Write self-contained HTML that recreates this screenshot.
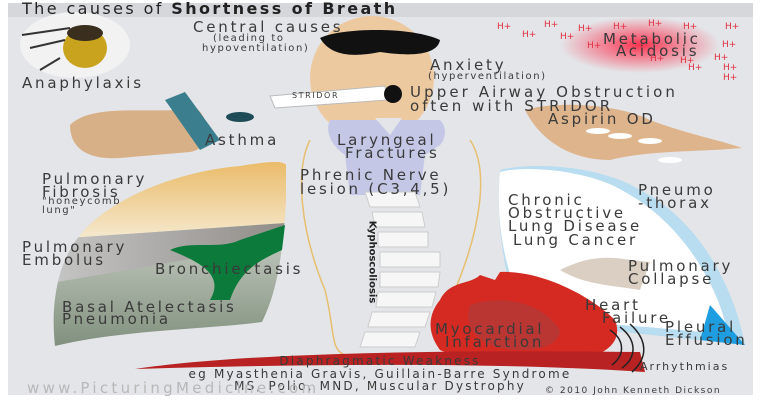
<!DOCTYPE html>
<html><head><meta charset="utf-8"><style>
html,body{margin:0;padding:0;background:#fff;}
#c{position:relative;width:760px;height:400px;overflow:hidden;background:#fff;font-family:"DejaVu Sans","Liberation Sans",sans-serif;color:#333;}
.t{position:absolute;font-size:15px;letter-spacing:2.8px;line-height:15px;white-space:nowrap;color:#3a3a3a;}
.s{font-size:10px;letter-spacing:1.6px;line-height:10px;}
.h{position:absolute;color:#e03040;font-size:9px;letter-spacing:0;}
</style></head><body><div id="c">
<svg width="760" height="400" style="position:absolute;left:0;top:0">
<defs>
<radialGradient id="rg" cx="50%" cy="50%" r="50%"><stop offset="0" stop-color="#ff2040" stop-opacity=".9"/><stop offset="1" stop-color="#ff2040" stop-opacity="0"/></radialGradient>
<linearGradient id="ly" x1="0" y1="0" x2="0" y2="1"><stop offset="0" stop-color="#e9b45a"/><stop offset="1" stop-color="#f5ead0"/></linearGradient>
<linearGradient id="lg" x1="0" y1="0" x2="0" y2="1"><stop offset="0" stop-color="#f2f2ee"/><stop offset="1" stop-color="#7f8f7c"/></linearGradient>
<linearGradient id="gb" x1="0" y1="0" x2="1" y2="0"><stop offset="0" stop-color="#c8c8c8"/><stop offset="1" stop-color="#8e8a85"/></linearGradient>
<clipPath id="cl"><path d="M240,166 C265,162 283,160 286,165 L286,200 C283,250 278,290 262,322 C200,330 120,330 55,346 C50,300 58,250 95,220 C130,190 190,170 240,166Z"/></clipPath>
</defs>
<rect x="8" y="3" width="745" height="392" fill="#e4e5e8"/>
<rect x="8" y="3" width="745" height="14" fill="#d6d7da"/>
<ellipse cx="640" cy="45" rx="80" ry="28" fill="url(#rg)"/>
<ellipse cx="75" cy="45" rx="55" ry="33" fill="#f2f2f2"/>
<ellipse cx="85" cy="48" rx="22" ry="20" fill="#c9a21e"/>
<ellipse cx="85" cy="33" rx="18" ry="8" fill="#3a2e1e"/>
<path d="M22,35 L70,28 M30,48 L65,40 M40,70 L60,58" stroke="#333" stroke-width="2"/>
<circle cx="372" cy="78" r="62" fill="#edc9a0"/>
<path d="M320,38 C340,28 410,26 440,40 C438,52 420,58 380,52 C350,58 330,55 320,38Z" fill="#111"/>
<path d="M270,96 L385,86 L387,100 L275,108Z" fill="#fff" stroke="#bbb"/>
<circle cx="393" cy="94" r="9" fill="#111"/>
<path d="M70,125 C90,105 140,112 175,110 C190,100 200,108 205,120 C210,135 205,150 190,152 L120,158 C90,160 70,150 70,125Z" fill="#d8b088"/>
<path d="M165,100 L185,92 L220,140 L200,150Z" fill="#3b7f8f"/>
<ellipse cx="240" cy="117" rx="14" ry="5" fill="#1e4b56"/>
<path d="M330,120 L440,120 C448,128 445,140 440,145 L425,155 L420,195 L350,195 L345,155 C330,145 325,130 330,120Z" fill="#c4c8e6"/>
<path d="M375,118 L390,135 L402,118Z" fill="#e4e5e8"/>
<path d="M310,140 C295,170 300,230 325,290 C335,330 330,350 345,355" stroke="#e6bf70" stroke-width="1.5" fill="none"/>
<path d="M470,140 C490,170 480,230 455,290" stroke="#e6bf70" stroke-width="1.5" fill="none"/>
<g fill="#f6f6f6" stroke="#ccc">
<path d="M365,192 L415,192 L420,207 L370,207Z"/><path d="M372,212 L422,212 L425,227 L375,227Z"/>
<path d="M378,232 L428,232 L428,247 L378,247Z"/><path d="M380,252 L440,252 L440,267 L380,267Z"/>
<path d="M380,272 L440,272 L438,287 L380,287Z"/><path d="M378,292 L436,292 L432,307 L376,307Z"/>
<path d="M372,312 L430,312 L425,327 L368,327Z"/><path d="M365,332 L420,332 L415,347 L360,347Z"/>
</g>
<path d="M525,110 C560,100 620,105 650,120 C690,135 720,140 742,148 C700,152 650,150 610,160 C570,160 540,140 525,110Z" fill="#deb48c"/>
<g fill="#fff"><ellipse cx="598" cy="131" rx="12" ry="3"/><ellipse cx="620" cy="136" rx="12" ry="3"/><ellipse cx="650" cy="141" rx="12" ry="3"/><ellipse cx="670" cy="160" rx="12" ry="3"/></g>
<g clip-path="url(#cl)">
<rect x="40" y="150" width="260" height="200" fill="url(#lg)"/>
<path d="M40,150 L300,150 L300,222 L40,240Z" fill="url(#ly)"/>
<path d="M40,240 L300,222 L300,240 L40,285Z" fill="url(#gb)"/>
</g>
<path d="M285,225 L282,250 C260,260 240,270 230,300 L210,300 C225,275 200,262 170,250 C190,240 220,250 240,240 L285,225Z" fill="#0b7a3a"/>
<path d="M500,170 C530,162 600,165 640,190 C700,220 735,290 745,345 C700,340 600,330 520,320 C505,280 495,220 500,170Z" fill="#b8dcf0"/>
<path d="M500,172 C525,165 590,170 625,192 C685,225 720,290 728,335 C690,330 620,325 530,318 C505,280 495,220 500,172Z" fill="#fff"/>
<path d="M710,305 L745,345 L700,340Z" fill="#1e9ee0"/>
<path d="M560,270 C600,250 620,260 650,262 L640,290 C610,285 585,285 560,270Z" fill="#cbbba8" opacity=".7"/>
<path d="M440,300 C450,280 470,285 480,275 L495,280 L500,272 C540,270 590,295 615,320 C625,345 600,360 560,362 C520,365 460,360 440,350 C425,330 430,312 440,300Z" fill="#d42a22"/>
<path d="M470,305 C500,295 540,300 560,330 C560,350 520,355 490,345 C470,335 465,320 470,305Z" fill="#a84040" opacity=".6"/>
<path d="M135,369 C250,352 450,350 640,352 L645,372 C500,362 300,364 135,369Z" fill="#b82222"/>
<path d="M610,330 C625,340 625,355 612,365 M620,327 C637,340 637,357 622,368 M630,324 C648,340 648,358 632,372" stroke="#222" stroke-width="1.5" fill="none"/>
</svg>
<div class="t" style="left:22px;top:1px;font-size:16px;letter-spacing:2.4px;color:#222">The causes of <b>Shortness of Breath</b></div>
<div class="t" style="left:22px;top:76px">Anaphylaxis</div>
<div class="t" style="left:193px;top:20px">Central causes</div>
<div class="t s" style="left:213px;top:34px">(leading to</div>
<div class="t s" style="left:202px;top:44px">hypoventilation)</div>
<div class="t" style="left:430px;top:58px">Anxiety</div>
<div class="t s" style="left:428px;top:72px">(hyperventilation)</div>
<div class="t s" style="left:292px;top:91px;font-size:8px">STRIDOR</div>
<div class="t" style="left:410px;top:85px;letter-spacing:3.1px">Upper Airway Obstruction</div>
<div class="t" style="left:410px;top:99px;letter-spacing:3.1px">often with STRIDOR</div>
<div class="t" style="left:603px;top:32px">Metabolic</div>
<div class="t" style="left:616px;top:44px">Acidosis</div>
<div class="h" style="left:497px;top:22px">H+</div><div class="h" style="left:544px;top:20px">H+</div><div class="h" style="left:578px;top:24px">H+</div><div class="h" style="left:613px;top:22px">H+</div><div class="h" style="left:648px;top:19px">H+</div><div class="h" style="left:683px;top:22px">H+</div><div class="h" style="left:725px;top:22px">H+</div><div class="h" style="left:522px;top:30px">H+</div><div class="h" style="left:560px;top:32px">H+</div><div class="h" style="left:587px;top:41px">H+</div><div class="h" style="left:722px;top:40px">H+</div><div class="h" style="left:650px;top:54px">H+</div><div class="h" style="left:680px;top:56px">H+</div><div class="h" style="left:714px;top:53px">H+</div><div class="h" style="left:688px;top:63px">H+</div><div class="h" style="left:723px;top:63px">H+</div><div class="h" style="left:723px;top:73px">H+</div>
<div class="t" style="left:205px;top:133px">Asthma</div>
<div class="t" style="left:337px;top:133px">Laryngeal</div>
<div class="t" style="left:345px;top:146px">Fractures</div>
<div class="t" style="left:548px;top:112px">Aspirin OD</div>
<div class="t" style="left:42px;top:172px">Pulmonary</div>
<div class="t" style="left:42px;top:185px">Fibrosis</div>
<div class="t s" style="left:42px;top:197px">"honeycomb</div>
<div class="t s" style="left:42px;top:206px">lung"</div>
<div class="t" style="left:300px;top:168px">Phrenic Nerve</div>
<div class="t" style="left:300px;top:182px">lesion (C3,4,5)</div>
<div class="t" style="left:22px;top:240px">Pulmonary</div>
<div class="t" style="left:22px;top:253px">Embolus</div>
<div class="t" style="left:155px;top:262px">Bronchiectasis</div>
<div class="t" style="left:62px;top:300px">Basal Atelectasis</div>
<div class="t" style="left:62px;top:312px">Pneumonia</div>
<div class="t s" style="left:330px;top:257px;transform:rotate(90deg);font-size:10px;letter-spacing:0;color:#222;font-weight:bold">Kyphoscoliosis</div>
<div class="t" style="left:638px;top:183px">Pneumo</div>
<div class="t" style="left:638px;top:196px">-thorax</div>
<div class="t" style="left:508px;top:193px">Chronic</div>
<div class="t" style="left:508px;top:206px">Obstructive</div>
<div class="t" style="left:508px;top:219px">Lung Disease</div>
<div class="t" style="left:513px;top:233px">Lung Cancer</div>
<div class="t" style="left:628px;top:259px">Pulmonary</div>
<div class="t" style="left:628px;top:272px">Collapse</div>
<div class="t" style="left:585px;top:298px">Heart</div>
<div class="t" style="left:602px;top:311px">Failure</div>
<div class="t" style="left:665px;top:320px">Pleural</div>
<div class="t" style="left:665px;top:333px">Effusion</div>
<div class="t" style="left:435px;top:322px">Myocardial</div>
<div class="t" style="left:445px;top:335px">Infarction</div>
<div class="t s" style="left:640px;top:362px;font-size:11px;letter-spacing:2px">Arrhythmias</div>
<div class="t s" style="left:130px;top:355px;width:500px;text-align:center;font-size:12px;letter-spacing:2.2px;line-height:12.5px">Diaphragmatic Weakness<br>eg Myasthenia Gravis, Guillain-Barre Syndrome<br>MS, Polio, MND, Muscular Dystrophy</div>
<div class="t" style="left:27px;top:381px;font-size:15px;letter-spacing:3.3px;color:#b8b8b8">www.PicturingMedicine.com</div>
<div class="t s" style="left:545px;top:386px;font-size:9px;letter-spacing:1.5px">© 2010 John Kenneth Dickson</div>
</div></body></html>
